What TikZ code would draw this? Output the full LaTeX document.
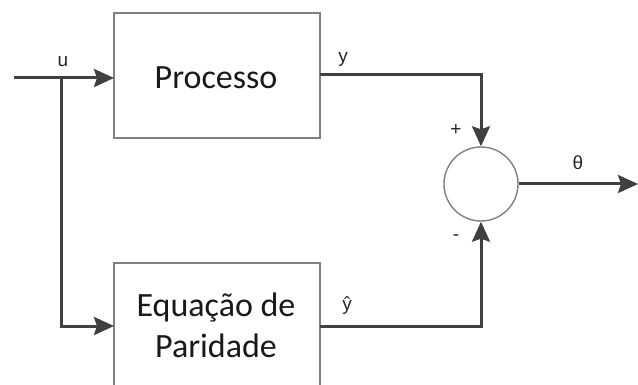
\documentclass[tikz,border=0pt]{standalone}
\usepackage{fontspec}
\setmainfont{Carlito}
\newfontfamily\labelfont{Liberation Sans}
\usetikzlibrary{arrows.meta}
\definecolor{wire}{HTML}{404040}
\definecolor{frame}{HTML}{808080}
\begin{document}
\begin{tikzpicture}[x=1pt,y=-1pt,
  wire/.style={draw=wire,line width=3pt,-{Stealth[length=20pt,width=18pt,inset=3pt]}},
  block/.style={draw=frame,line width=1.8pt,fill=white},
  blocktext/.style={font=\fontsize{34}{41}\selectfont,text=black!90,align=center},
  sig/.style={font=\labelfont\fontsize{19}{22}\selectfont,text=black!85}]
\useasboundingbox (0,0) rectangle (638,385);
\begin{scope}
\clip (0,0) rectangle (638,385);
% blocks
\draw[block] (114,13) rectangle (320,138);
\node[blocktext] (proc) at (216,78) {Processo};
\draw[block] (114,263) rectangle (320,390);
\node[blocktext] (par) at (216,325) {Equação de\\Paridade};
\end{scope}
% summing junction
\node[circle,draw=frame,line width=1.4pt,minimum size=74pt,inner sep=0pt] (sum) at (481,184) {};
% named points on the wires
\coordinate (in) at (14,78);
\coordinate (branch) at (61,78);
\coordinate (procin) at (114,78);
\coordinate (parin) at (114,326);
\coordinate (procout) at (320,75);
\coordinate (parout) at (320,326);
\coordinate (out) at (638,184);
% wires
\draw[wire] (in) -- (procin);
\draw[wire] (branch) |- (parin);
\draw[wire] (procout) -| (sum.north);
\draw[wire] (parout) -| (sum.south);
\draw[wire] (sum.east) -- (out);
% signal labels
\node[sig] (lu) at (63,62) {u};
\node[sig] (ly) at (343,59) {y};
\node[sig] (lyh) at (347,306) {ŷ};
\node[sig] (lth) at (578,163) {θ};
\node[sig] (lp) at (456,130) {+};
\node[sig] (lm) at (456,238) {-};
\end{tikzpicture}
\end{document}
